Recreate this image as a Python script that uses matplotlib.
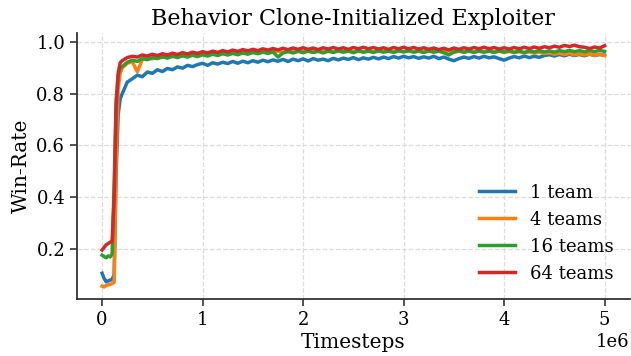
import numpy as np
import matplotlib
matplotlib.use("Agg")
import matplotlib.pyplot as plt

# Timesteps: dense early part, then every 50k steps
early_steps = [0, 0.02e6, 0.04e6, 0.06e6, 0.08e6, 0.10e6, 0.12e6, 0.14e6, 0.16e6, 0.18e6]
steps = np.concatenate([early_steps, np.arange(0.20e6, 5.0e6 + 1, 0.05e6)])

team_1 = [0.105, 0.085, 0.072, 0.075, 0.078, 0.082, 0.100, 0.500, 0.720, 0.780,
          0.800, 0.845, 0.858, 0.872, 0.866, 0.884, 0.879, 0.893, 0.886, 0.898,
          0.893, 0.904, 0.899, 0.910, 0.905, 0.913, 0.918, 0.910, 0.920, 0.915,
          0.922, 0.917, 0.925, 0.918, 0.926, 0.920, 0.928, 0.922, 0.930, 0.924,
          0.931, 0.926, 0.933, 0.925, 0.934, 0.928, 0.935, 0.927, 0.936, 0.930,
          0.934, 0.928, 0.937, 0.931, 0.938, 0.933, 0.940, 0.932, 0.939, 0.934,
          0.941, 0.935, 0.942, 0.936, 0.944, 0.938, 0.945, 0.939, 0.944, 0.937,
          0.943, 0.938, 0.945, 0.936, 0.942, 0.934, 0.928, 0.936, 0.942, 0.937,
          0.944, 0.938, 0.945, 0.939, 0.943, 0.936, 0.930, 0.938, 0.944, 0.939,
          0.946, 0.940, 0.945, 0.941, 0.948, 0.951, 0.946, 0.952, 0.947, 0.953,
          0.948, 0.952, 0.947, 0.953, 0.948, 0.952, 0.949]

teams_4 = [0.055, 0.052, 0.058, 0.060, 0.062, 0.065, 0.070, 0.550, 0.820, 0.880,
           0.900, 0.918, 0.925, 0.885, 0.932, 0.938, 0.935, 0.944, 0.940, 0.948,
           0.944, 0.952, 0.947, 0.955, 0.950, 0.957, 0.953, 0.959, 0.954, 0.960,
           0.956, 0.962, 0.957, 0.963, 0.958, 0.964, 0.959, 0.965, 0.960, 0.966,
           0.961, 0.965, 0.960, 0.966, 0.961, 0.967, 0.962, 0.966, 0.961, 0.967,
           0.962, 0.966, 0.961, 0.967, 0.963, 0.968, 0.962, 0.967, 0.961, 0.966,
           0.962, 0.967, 0.963, 0.966, 0.962, 0.967, 0.963, 0.967, 0.962, 0.966,
           0.961, 0.966, 0.962, 0.967, 0.963, 0.966, 0.960, 0.965, 0.961, 0.966,
           0.962, 0.965, 0.961, 0.966, 0.962, 0.965, 0.960, 0.964, 0.959, 0.963,
           0.958, 0.962, 0.957, 0.961, 0.956, 0.958, 0.953, 0.957, 0.952, 0.956,
           0.951, 0.955, 0.950, 0.954, 0.949, 0.953, 0.948]

teams_16 = [0.175, 0.170, 0.165, 0.172, 0.168, 0.180, 0.450, 0.780, 0.870, 0.900,
            0.905, 0.922, 0.930, 0.925, 0.936, 0.932, 0.940, 0.936, 0.943, 0.938,
            0.945, 0.940, 0.947, 0.942, 0.949, 0.944, 0.951, 0.946, 0.953, 0.948,
            0.955, 0.950, 0.956, 0.951, 0.958, 0.953, 0.960, 0.955, 0.961, 0.956,
            0.962, 0.942, 0.958, 0.963, 0.958, 0.964, 0.959, 0.965, 0.960, 0.964,
            0.958, 0.965, 0.960, 0.966, 0.961, 0.965, 0.959, 0.966, 0.961, 0.965,
            0.960, 0.966, 0.961, 0.965, 0.960, 0.966, 0.962, 0.966, 0.961, 0.965,
            0.960, 0.966, 0.961, 0.965, 0.959, 0.950, 0.962, 0.966, 0.961, 0.965,
            0.960, 0.966, 0.961, 0.965, 0.960, 0.966, 0.962, 0.966, 0.961, 0.965,
            0.960, 0.966, 0.962, 0.967, 0.962, 0.966, 0.961, 0.967, 0.963, 0.968,
            0.963, 0.967, 0.962, 0.967, 0.963, 0.968, 0.964]

teams_64 = [0.195, 0.205, 0.215, 0.220, 0.225, 0.230, 0.400, 0.750, 0.880, 0.920,
            0.928, 0.940, 0.945, 0.942, 0.950, 0.946, 0.953, 0.948, 0.955, 0.950,
            0.957, 0.952, 0.959, 0.954, 0.961, 0.956, 0.963, 0.958, 0.965, 0.960,
            0.967, 0.962, 0.969, 0.964, 0.971, 0.966, 0.972, 0.967, 0.974, 0.969,
            0.975, 0.970, 0.976, 0.971, 0.977, 0.972, 0.978, 0.972, 0.977, 0.971,
            0.978, 0.973, 0.979, 0.973, 0.978, 0.972, 0.979, 0.974, 0.980, 0.974,
            0.979, 0.973, 0.978, 0.972, 0.979, 0.974, 0.980, 0.974, 0.979, 0.973,
            0.978, 0.972, 0.977, 0.971, 0.976, 0.970, 0.977, 0.972, 0.978, 0.973,
            0.979, 0.974, 0.980, 0.974, 0.979, 0.973, 0.978, 0.973, 0.979, 0.974,
            0.980, 0.975, 0.981, 0.976, 0.982, 0.978, 0.984, 0.980, 0.987, 0.983,
            0.988, 0.982, 0.980, 0.975, 0.981, 0.977, 0.986]

series = {"1 team": team_1, "4 teams": teams_4, "16 teams": teams_16, "64 teams": teams_64}
colors = ["#1f77b4", "#ff7f0e", "#2ca02c", "#d62728"]

plt.rcParams["font.family"] = ["DejaVu Serif"]

fig, ax = plt.subplots(figsize=(6.31, 3.56), dpi=100)
fig.subplots_adjust(left=0.122, right=0.998, bottom=0.16, top=0.907)

for (label, vals), c in zip(series.items(), colors):
    ax.plot(steps, vals, color=c, lw=2.5, label=label)

ax.set_title("Behavior Clone-Initialized Exploiter", fontsize=16)
ax.set_xlabel("Timesteps", fontsize=14.5, labelpad=3)
ax.set_ylabel("Win-Rate", fontsize=14.5)
ax.tick_params(labelsize=13, length=5, width=1.2, color="#333333")
ax.xaxis.get_offset_text().set_fontsize(13)

ax.grid(True, ls="--", color="#dddddd", lw=0.9)
ax.spines["top"].set_visible(False)
ax.spines["right"].set_visible(False)
for s in ["left", "bottom"]:
    ax.spines[s].set_color("#333333")
    ax.spines[s].set_linewidth(1.3)

ax.legend(loc="lower right", frameon=False, fontsize=13)

fig.savefig("out.png", dpi=100)
